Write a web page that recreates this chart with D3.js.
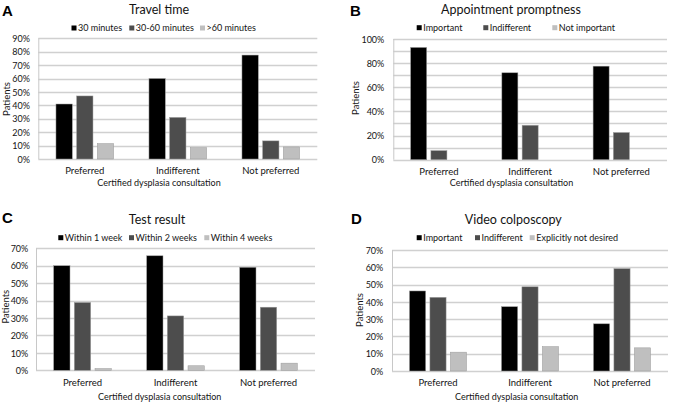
<!DOCTYPE html>
<html>
<head>
<meta charset="utf-8">
<script src="https://cdn.jsdelivr.net/npm/d3@7"></script>
<style>
  html, body { margin: 0; padding: 0; background: #fff; }
  svg { display: block; font-family: Lato, "Open Sans", sans-serif; }
</style>
</head>
<body>
<svg id="chart" width="675" height="402"></svg>
<script>
// ---------- data ----------
const categories = ["Preferred", "Indifferent", "Not preferred"];
const xAxisTitle = "Certified dysplasia consultation";
const yAxisTitle = "Patients";

const travelTitle = "Travel time";
const travelSeries = ["30 minutes", "30-60 minutes", ">60 minutes"];
const travelValues = [
  [41, 60, 77.5],
  [47, 31, 13.5],
  [11.5, 8.5, 9]
];
const travelTicks = [0, 10, 20, 30, 40, 50, 60, 70, 80, 90];

const promptTitle = "Appointment promptness";
const promptSeries = ["Important", "Indifferent", "Not important"];
const promptValues = [
  [93, 72, 77.5],
  [7.5, 28.5, 22.5],
  [0, 0, 0]
];
const promptTicks = [0, 20, 40, 60, 80, 100];
const promptGrid = [0, 10, 20, 30, 40, 50, 60, 70, 80, 90, 100];

const testTitle = "Test result";
const testSeries = ["Within 1 week", "Within 2 weeks", "Within 4 weeks"];
const testValues = [
  [60, 65.7, 59.1],
  [38.9, 31.2, 36.2],
  [1, 2.6, 4.1]
];
const testTicks = [0, 10, 20, 30, 40, 50, 60, 70];

const videoTitle = "Video colposcopy";
const videoSeries = ["Important", "Indifferent", "Explicitly not desired"];
const videoValues = [
  [46.3, 37.2, 27.3],
  [42.6, 48.7, 59.2],
  [10.9, 14.1, 13.4]
];
const videoTicks = [0, 10, 20, 30, 40, 50, 60, 70];

const seriesColors = ["#000000", "#4d4d4d", "#bfbfbf"];

// ---------- drawing ----------
const svg = d3.select("#chart");
const textColor = "#141414";

function drawPanel(p) {
  const g = svg.append("g");
  const y = d3.scaleLinear().domain([0, p.max]).range([p.bottom, p.top]);
  const x0 = d3.scaleBand().domain(categories).range([p.left, p.right])
    .paddingInner(0.38).paddingOuter(0.19);
  const x1 = d3.scaleBand().domain(d3.range(3)).range([0, x0.bandwidth()])
    .paddingInner(0.21).paddingOuter(0);

  // gridlines
  g.append("g").selectAll("line").data(p.grid).join("line")
    .attr("x1", p.left).attr("x2", p.right)
    .attr("y1", d => Math.round(y(d)) + 0.5).attr("y2", d => Math.round(y(d)) + 0.5)
    .attr("stroke", "#d0d0d0").attr("stroke-width", 1.3);

  // y axis
  const yAxis = d3.axisLeft(y).tickValues(p.ticks).tickSize(0).tickPadding(0)
    .tickFormat(d => d + "%");
  const ya = g.append("g").attr("transform", `translate(${p.tickRight},0)`).call(yAxis);
  ya.select(".domain").remove();
  ya.selectAll("text").attr("fill", textColor).style("font-size", "9px")
    .style("font-family", "Lato, sans-serif").attr("dy", "0.35em");
  g.append("line").attr("x1", p.left + 0.5).attr("x2", p.left + 0.5)
    .attr("y1", p.top).attr("y2", p.bottom).attr("stroke", "#c8c8c8");

  // bars
  const groups = g.append("g").selectAll("g").data(categories).join("g")
    .attr("transform", c => `translate(${x0(c)},0)`);
  groups.selectAll("rect").data((c, ci) => p.values.map((s, si) => ({ si, v: s[ci] })))
    .join("rect")
    .attr("x", d => x1(d.si)).attr("width", x1.bandwidth())
    .attr("y", d => y(d.v)).attr("height", d => y(0) - y(d.v))
    .attr("fill", d => seriesColors[d.si])
    .attr("stroke", d => d.v > 0 ? "#9a9a9a" : "none").attr("stroke-width", 0.5);

  // x axis
  const xAxis = d3.axisBottom(x0).tickSize(0).tickPadding(0);
  const xa = g.append("g").attr("transform", `translate(0,${p.xTickY})`).call(xAxis);
  xa.select(".domain").remove();
  xa.selectAll("text").attr("fill", textColor).style("font-size", "9.5px")
    .style("font-family", "Lato, sans-serif").attr("dy", "0.35em");

  // axis titles
  g.append("text").attr("x", p.xTitleX).attr("y", p.xTitleY).attr("dy", "0.35em")
    .attr("text-anchor", "middle").attr("fill", textColor).style("font-size", "9px")
    .text(xAxisTitle);
  g.append("text").attr("transform", `translate(${p.yTitleX},${p.yTitleY}) rotate(-90)`)
    .attr("dy", "0.35em").attr("text-anchor", "middle").attr("fill", textColor)
    .style("font-size", "9.5px").text(yAxisTitle);

  // chart title
  g.append("text").attr("x", p.titleX).attr("y", p.titleY).attr("dy", "0.35em")
    .attr("text-anchor", "middle").attr("fill", textColor).style("font-size", "12.5px")
    .text(p.title);

  // panel letter
  g.append("text").attr("x", p.letterX).attr("y", p.letterY)
    .attr("fill", "#000").style("font-size", "15px").style("font-weight", "bold")
    .style("font-family", "'Liberation Sans', Arial, sans-serif")
    .text(p.letter);

  // legend
  const lg = g.append("g").selectAll("g").data(p.series).join("g")
    .attr("transform", (d, i) => `translate(${p.legendX[i]},${p.legendY})`);
  lg.append("rect").attr("x", 0).attr("y", -2.5).attr("width", 5).attr("height", 5)
    .attr("fill", (d, i) => seriesColors[i]);
  lg.append("text").attr("x", 6.5).attr("y", 0).attr("dy", "0.35em")
    .attr("fill", textColor).style("font-size", "9px").text(d => d);
}

drawPanel({
  letter: "A", letterX: 2, letterY: 16,
  title: travelTitle, titleX: 159, titleY: 9.5,
  series: travelSeries, values: travelValues,
  legendX: [71.5, 129.3, 200], legendY: 28,
  max: 90, ticks: travelTicks, grid: travelTicks,
  left: 38.3, right: 317.3, top: 38.3, bottom: 159,
  tickRight: 30, xTickY: 171, xTitleX: 159, xTitleY: 182.7,
  yTitleX: 6.7, yTitleY: 99
});
drawPanel({
  letter: "B", letterX: 350, letterY: 16,
  title: promptTitle, titleX: 511, titleY: 9.5,
  series: promptSeries, values: promptValues,
  legendX: [416.7, 483.3, 552.3], legendY: 27.7,
  max: 100, ticks: promptTicks, grid: promptGrid,
  left: 393.3, right: 667, top: 39, bottom: 159.7,
  tickRight: 384.3, xTickY: 171.7, xTitleX: 511.5, xTitleY: 183.3,
  yTitleX: 355.7, yTitleY: 98
});
drawPanel({
  letter: "C", letterX: 2, letterY: 223,
  title: testTitle, titleX: 157, titleY: 220,
  series: testSeries, values: testValues,
  legendX: [58.3, 129, 204.3], legendY: 237.7,
  max: 70, ticks: testTicks, grid: testTicks,
  left: 36, right: 315, top: 248.3, bottom: 370.3,
  tickRight: 28.3, xTickY: 382.7, xTitleX: 159.7, xTitleY: 396.7,
  yTitleX: 5.7, yTitleY: 306.7
});
drawPanel({
  letter: "D", letterX: 351, letterY: 224,
  title: videoTitle, titleX: 513.3, titleY: 220,
  series: videoSeries, values: videoValues,
  legendX: [416.7, 475, 529.7], legendY: 237.7,
  max: 70, ticks: videoTicks, grid: videoTicks,
  left: 392, right: 668, top: 250, bottom: 371,
  tickRight: 383.3, xTickY: 382.7, xTitleX: 516.7, xTitleY: 396.7,
  yTitleX: 360, yTitleY: 310
});
</script>
</body>
</html>
